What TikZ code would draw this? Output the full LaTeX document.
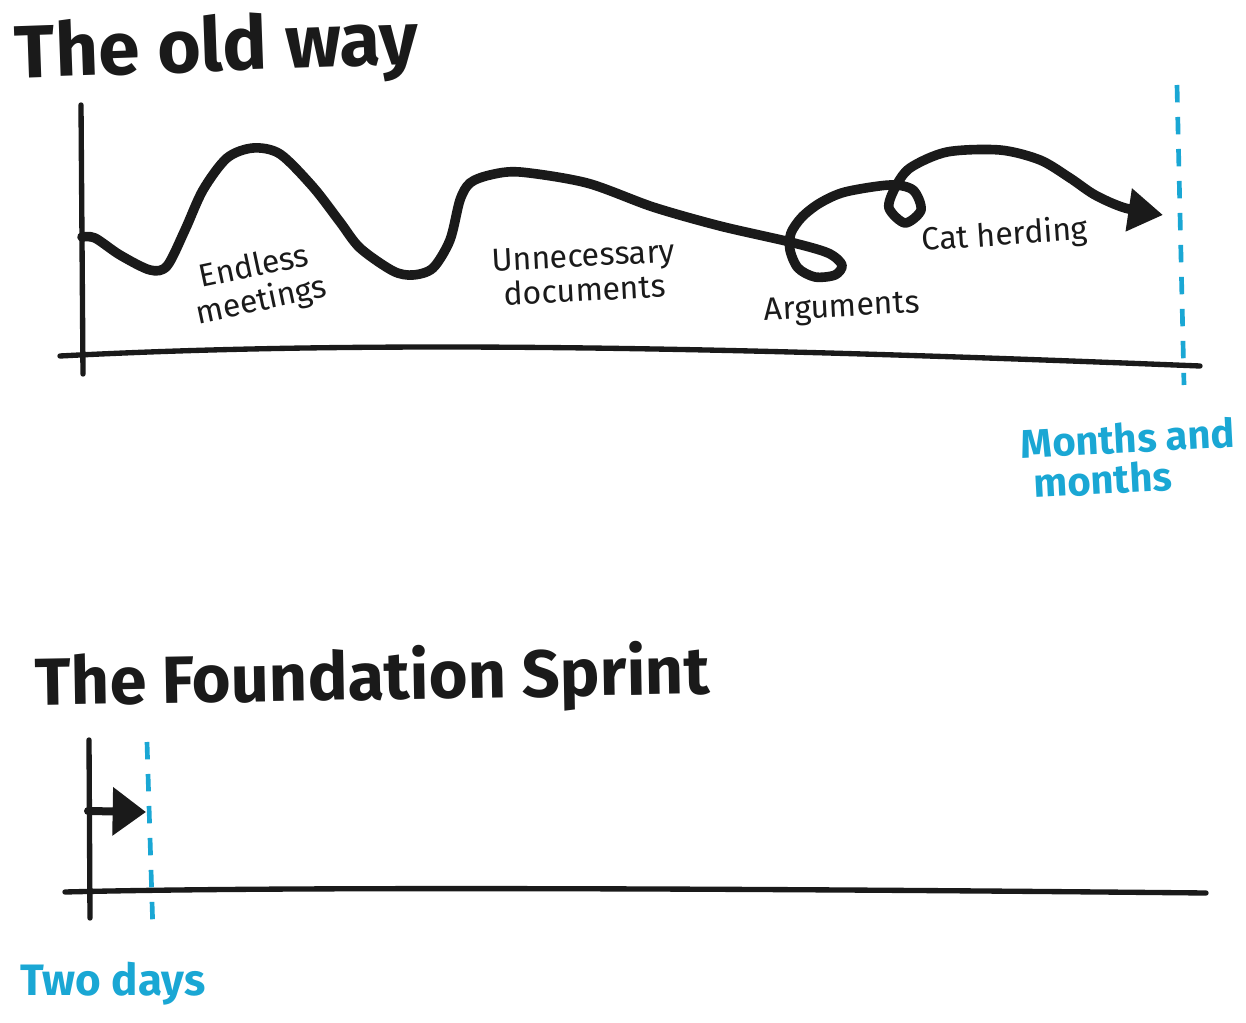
\documentclass[tikz,border=0pt]{standalone}
\usepackage{fontspec}
\setmainfont{Fira Sans}
\definecolor{ink}{HTML}{1A1A1A}
\definecolor{sky}{HTML}{1AA7D4}
\usetikzlibrary{arrows.meta}
\tikzset{
  axis/.style={draw=ink,line width=4pt,line cap=round},
  journey/.style={draw=ink,line width=7.2pt,line cap=round,line join=round},
  deadline/.style={draw=sky,line width=3.5pt,dash pattern=on 13pt off 11pt},
  head/.style={-{Triangle[length=26pt,width=31pt]}},
  ttl/.style={font=\bfseries\fontsize{50}{50}\selectfont,text=ink,anchor=west,inner sep=0pt},
  lbl/.style={font=\fontsize{24}{26}\selectfont,text=ink,align=center,inner sep=0pt},
  blu/.style={font=\bfseries\fontsize{30}{30}\selectfont,text=sky,inner sep=0pt}
}
\begin{document}
\begin{tikzpicture}[x=0.75pt,y=-0.75pt]
    \useasboundingbox[fill=white] (0,0) rectangle (1246,1023);
    % the old way
    \node[ttl,rotate=2,font=\bfseries\fontsize{56}{56}\selectfont] (oldtitle) at (15,58) {The old way};
    \coordinate (ytop) at (81,105);
    \coordinate (ybot) at (83,374);
    \coordinate (xl) at (60,356);
    \coordinate (xr) at (1200,366);
    \draw[axis] (ytop) -- (ybot);
    \draw[axis] (xl) .. controls (400,338) and (800,350) .. (xr);
    \coordinate (d1a) at (1177,85);
    \coordinate (d1b) at (1184,385);
    \draw[deadline] (d1a) -- (d1b);
    \draw[journey,head] plot[smooth,tension=0.5] coordinates {
      (82,237) (95,238) (120,255) (150,270) (167,266) (185,230) (203,190)
      (227,158) (253,148) (280,154) (313,187) (340,222) (360,248) (393,271)
      (413,275) (433,268) (450,240) (460,200) (470,183) (490,175) (520,172)
      (587,183) (653,207) (720,226) (790,242) (828,253) (842,265) (835,275)
      (815,277) (798,268) (790,250) (791,233) (802,217) (820,203) (845,192)
      (890,185) (913,190) (921,210) (905,223) (889,208) (895,188) (910,168)
      (947,152) (1000,150) (1040,160) (1070,178) (1095,195) (1125,208) (1163,215)};
    \node[lbl,rotate=12] (meetings) at (258,285) {Endless\\meetings};
    \node[lbl,rotate=3] (docs) at (584,273) {Unnecessary\\documents};
    \node[lbl,rotate=3] (args) at (842,309) {Arguments};
    \node[lbl,rotate=4] (cats) at (1005,236) {Cat herding};
    \node[blu,rotate=3,align=left] (months) at (1129,458) {Months and\\\hspace*{8pt}months};
    % the foundation sprint
    \node[ttl,rotate=1] (sprinttitle) at (35,686) {The Foundation Sprint};
    \coordinate (ytop2) at (89,740);
    \coordinate (ybot2) at (90,918);
    \coordinate (xl2) at (65,892);
    \coordinate (xr2) at (1206,893);
    \draw[axis] (ytop2) -- (ybot2);
    \draw[axis] (xl2) .. controls (300,886) and (800,889) .. (xr2);
    \coordinate (d2a) at (147,742);
    \coordinate (d2b) at (153,933);
    \draw[deadline] (d2a) -- (d2b);
    \coordinate (s0) at (88,811);
    \coordinate (s1) at (146,812);
    \draw[axis,line width=6pt,-{Triangle[length=25pt,width=35pt]}] (s0) -- (s1);
    \node[blu,anchor=west,font=\bfseries\fontsize{33}{33}\selectfont] (twodays) at (20,984) {Two days};
\end{tikzpicture}
\end{document}
